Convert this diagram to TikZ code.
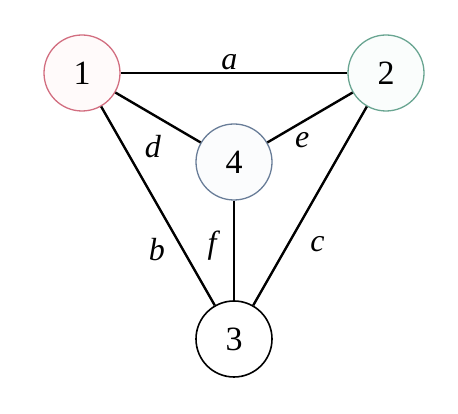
\documentclass[tikz,border=0pt]{standalone}
\usepackage{fontspec}
\setmainfont{Liberation Serif}
\usetikzlibrary{positioning}

\definecolor{oneline}{RGB}{210,110,128}
\definecolor{onefill}{RGB}{255,250,250}
\definecolor{twoline}{RGB}{105,165,145}
\definecolor{twofill}{RGB}{250,253,252}
\definecolor{fourline}{RGB}{105,125,152}
\definecolor{fourfill}{RGB}{251,252,253}

\begin{document}
\begin{tikzpicture}[
  x=1pt,y=1pt,
  vertex/.style={circle,draw,line width=1.3pt,minimum size=76pt,inner sep=0pt,fill=white,
    font=\fontsize{34}{40}\selectfont},
  edge/.style={line width=2.4pt},
  lab/.style={font=\fontsize{32}{38}\selectfont\itshape,inner sep=0pt}
]
\useasboundingbox (0,0) rectangle (458,414);

\node[vertex,draw=oneline,fill=onefill] (n1) at (82,341) {1};
\node[vertex,draw=twoline,fill=twofill] (n2) at (386,341) {2};
\node[vertex,draw=fourline,fill=fourfill] (n4) at (234,252) {4};
\node[vertex,draw=black,line width=1.6pt] (n3) at (234,75) {3};

\draw[edge] (n1) -- node[lab,pos=0.48,yshift=11pt]{a} (n2);
\draw[edge] (n1) -- node[lab,pos=0.44,yshift=-32pt]{d} (n4);
\draw[edge] (n2) -- node[lab,pos=0.59,yshift=-18pt]{e} (n4);
\draw[edge] (n1) -- node[lab,pos=0.72,xshift=-26pt]{b} (n3);
\draw[edge] (n2) -- node[lab,pos=0.69,xshift=29pt]{c} (n3);
\draw[edge] (n4) -- node[lab,pos=0.45,xshift=-22pt]{f} (n3);
\end{tikzpicture}
\end{document}
